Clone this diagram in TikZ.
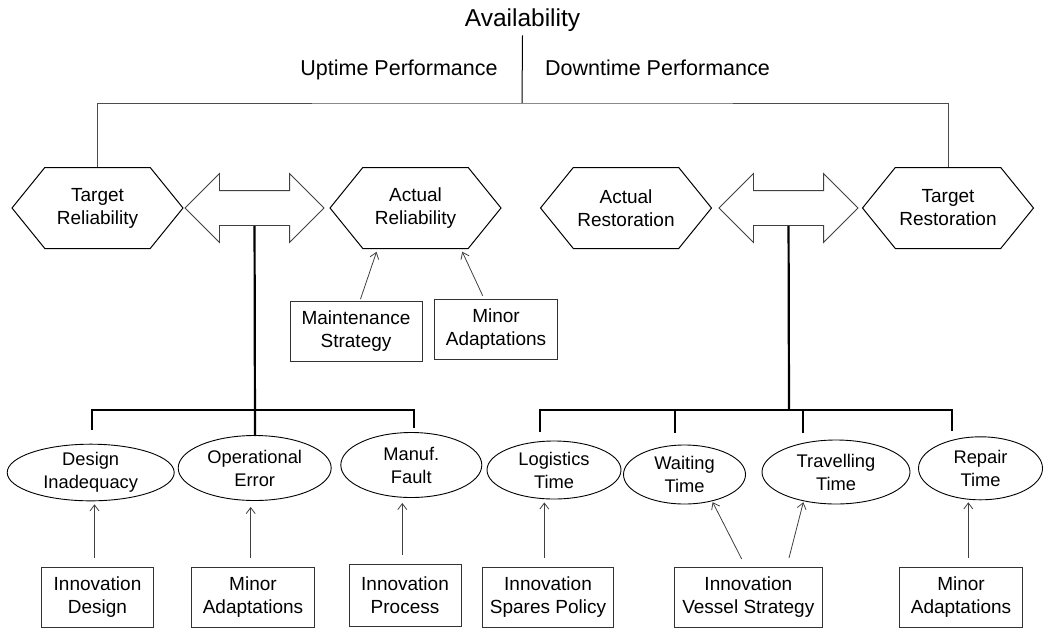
\documentclass[tikz,border=0pt]{standalone}
\usepackage{fontspec}
\setmainfont{Liberation Sans}
\usetikzlibrary{shapes.geometric, shapes.symbols, shapes.arrows, arrows.meta, positioning, backgrounds}

\tikzset{
    goal/.style={
        signal, signal to=west and east, signal pointer angle=102, draw=black, line width=1pt,
        minimum width=171pt, minimum height=81pt, inner sep=0pt, align=center,
        font=\fontsize{19}{23}\selectfont
    },
    gaparrow/.style={
        double arrow, double arrow head extend=17pt, draw=black!75, fill=white, line width=0.9pt,
        minimum height=139pt, minimum width=68pt, inner sep=17pt
    },
    cause/.style={
        ellipse, draw=black, line width=0.9pt, inner sep=0pt, align=center,
        font=\fontsize{18.3}{23}\selectfont
    },
    measure/.style={
        rectangle, draw=black!80, line width=0.9pt, minimum height=60pt, inner sep=0pt, align=center,
        font=\fontsize{19}{23}\selectfont
    },
    arrow/.style={
        ->, draw=black!75, line width=0.8pt, shorten <=9pt, shorten >=3pt
    },
    bus/.style={
        line width=2.2pt, line join=miter
    },
    heading/.style={
        inner sep=0pt, anchor=base
    }
}

\begin{document}
\begin{tikzpicture}[x=1pt, y=-1pt, >={Straight Barb[length=6pt,width=9pt]}]
    \useasboundingbox (0,0) rectangle (1043,630);

    % Top level
    \node[heading, inner sep=4pt, font=\fontsize{24.5}{28}\selectfont] (avail) at (522.5,26) {Availability};
    \node[heading, font=\fontsize{21.5}{25}\selectfont] (uptime) at (399,75) {Uptime Performance};
    \node[heading, font=\fontsize{21.5}{25}\selectfont] (downtime) at (657.5,75) {Downtime Performance};
    \coordinate (split) at (522,103);

    % Targets and actuals
    \node[goal] (targetrel) at (97.5,208) {Target\\Reliability};
    \node[goal] (actualrel) at (415.5,208) {Actual\\Reliability};
    \node[goal] (actualrest) at (626,208) {Actual\\Restoration};
    \node[goal] (targetrest) at (948,208) {Target\\Restoration};
    \node[gaparrow] (relgap) at (254.5,208) {};
    \node[gaparrow] (restgap) at (788.5,208) {};

    % Availability split
    \draw[line width=1pt] (avail.south) -- (split);
    \draw[line width=1pt, draw=black!70] (targetrel.north) |- (split) -| (targetrest.north);

    % Reliability measures
    \node[measure, minimum width=132pt] (maint) at (356,331) {Maintenance\\Strategy};
    \node[measure, minimum width=123pt] (minortwo) at (496,329) {Minor\\Adaptations};
    \draw[arrow, shorten <=1.5pt] ([xshift=4pt]maint.north) -- ([xshift=-38pt]actualrel.south);
    \draw[arrow, shorten <=3pt] ([xshift=-12pt]minortwo.north) -- ([xshift=45.5pt]actualrel.south);

    % Failure causes
    \node[cause, minimum width=167pt, minimum height=52pt] (design) at (90.7,472.5) {Design\\Inadequacy};
    \node[cause, minimum width=153pt, minimum height=65pt] (operr) at (254.7,468) {Operational\\Error};
    \node[cause, minimum width=141pt, minimum height=65pt] (manuf) at (411.3,465) {Manuf.\\Fault};

    % Downtime parts
    \node[cause, minimum width=134pt, minimum height=58pt] (logist) at (554,470) {Logistics\\Time};
    \node[cause, minimum width=122pt, minimum height=59pt] (waiting) at (684.5,474.5) {Waiting\\Time};
    \node[cause, minimum width=148pt, minimum height=64pt] (travel) at (836,472) {Travelling\\Time};
    \node[cause, minimum width=124pt, minimum height=63pt] (repair) at (980.5,468.3) {Repair\\Time};

    % Brackets
    \coordinate (u1) at (92,430);
    \coordinate (u2) at (255,436);
    \coordinate (u3) at (414,428);
    \coordinate (ubar) at (255,410);
    \coordinate (d1) at (540,431.7);
    \coordinate (d2) at (675,432.7);
    \coordinate (d3) at (802.7,433.3);
    \coordinate (d4) at (951.7,430.7);
    \coordinate (dbar) at (789,410);
    \begin{scope}[on background layer]
        \draw[bus] (relgap.center) -- (u2);
        \draw[bus] (restgap.center) -- (dbar);
    \end{scope}
    \draw[bus] (u1) |- (ubar) -| (u3);
    \draw[bus] (d1) |- (dbar) -| (d4);
    \draw[bus] (d2) -- (d2 |- dbar);
    \draw[bus] (d3) -- (d3 |- dbar);

    % Improvement measures
    \node[measure, minimum width=112pt] (innodes) at (97.5,597.3) {Innovation\\Design};
    \node[measure, minimum width=123pt] (minorone) at (253,597.3) {Minor\\Adaptations};
    \node[measure, minimum width=112pt, minimum height=62pt] (innoproc) at (405,595.2) {Innovation\\Process};
    \node[measure, minimum width=131pt] (innospare) at (548,597.3) {Innovation\\Spares Policy};
    \node[measure, minimum width=148pt] (innovessel) at (748.3,597.3) {Innovation\\Vessel Strategy};
    \node[measure, minimum width=123pt] (minorthree) at (961,597) {Minor\\Adaptations};

    % Relationships
    \draw[arrow] ([xshift=-3pt]innodes.north) -- ([xshift=-3pt]innodes.north |- design.south);
    \draw[arrow, shorten >=6pt] ([xshift=-2.3pt]minorone.north) -- ([xshift=-2.3pt]minorone.north |- operr.south);
    \draw[arrow, shorten >=5pt] ([xshift=-2.7pt]innoproc.north) -- ([xshift=-2.7pt]innoproc.north |- manuf.south);
    \draw[arrow] ([xshift=-3.7pt]innospare.north) -- ([xshift=-3.7pt]innospare.north |- logist.south);
    \draw[arrow, shorten >=1pt] ([xshift=-2.6pt]innovessel.north) -- (waiting.-44);
    \draw[arrow, shorten >=1pt] ([xshift=38.4pt]innovessel.north) -- (travel.222);
    \draw[arrow, shorten >=2pt] ([xshift=7.3pt]minorthree.north) -- ([xshift=7.3pt]minorthree.north |- repair.south);

\end{tikzpicture}
\end{document}
